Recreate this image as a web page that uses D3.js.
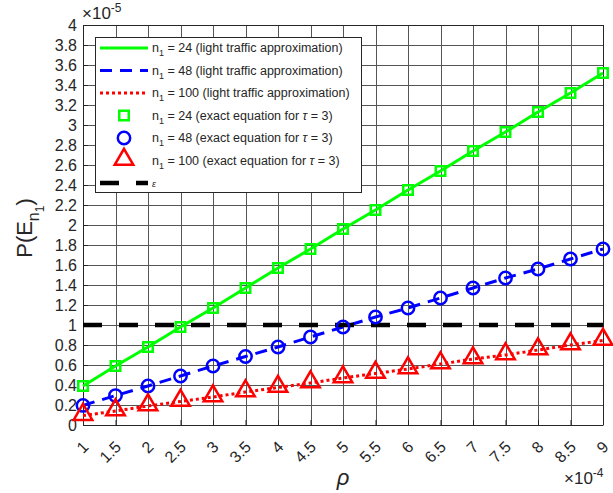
<!DOCTYPE html>
<html><head><meta charset="utf-8">
<script src="https://cdn.jsdelivr.net/npm/d3@7"></script>
<style>body{margin:0;background:#fff}svg{display:block}text{font-family:"Liberation Sans",Arial,sans-serif}</style>
</head><body><svg id="c" width="613" height="493"></svg>
<script>
const rho = [1,1.5,2,2.5,3,3.5,4,4.5,5,5.5,6,6.5,7,7.5,8,8.5,9];
const p24 = [0.39,0.59,0.78,0.98,1.17,1.37,1.57,1.76,1.96,2.15,2.35,2.54,2.74,2.93,3.13,3.32,3.52];
const p48 = [0.196,0.294,0.39,0.49,0.59,0.685,0.78,0.88,0.98,1.08,1.17,1.27,1.37,1.47,1.56,1.66,1.76];
const p100 = [0.094,0.14,0.19,0.235,0.28,0.33,0.375,0.42,0.47,0.515,0.56,0.61,0.66,0.70,0.75,0.80,0.845];
const epsX = [1,9];
const epsY = [1,1];
const xTicks = [1,1.5,2,2.5,3,3.5,4,4.5,5,5.5,6,6.5,7,7.5,8,8.5,9];
const yTicks = [0,0.2,0.4,0.6,0.8,1,1.2,1.4,1.6,1.8,2,2.2,2.4,2.6,2.8,3,3.2,3.4,3.6,3.8,4];

const svg = d3.select("#c");
const L=83,R=603,T=25,B=425;
const x = d3.scaleLinear().domain([1,9]).range([L,R]);
const y = d3.scaleLinear().domain([0,4]).range([B,T]);
const axc="#262626";

// grid
const g = svg.append("g");
g.selectAll(".gx").data(xTicks).join("line").attr("x1",d=>Math.round(x(d))+0.5).attr("x2",d=>Math.round(x(d))+0.5).attr("y1",T).attr("y2",B).attr("stroke","#555").attr("stroke-width",1);
g.selectAll(".gy").data(yTicks).join("line").attr("y1",d=>Math.round(y(d))+0.5).attr("y2",d=>Math.round(y(d))+0.5).attr("x1",L).attr("x2",R).attr("stroke","#555").attr("stroke-width",1);

// axes
const xa = svg.append("g").attr("transform",`translate(0,${B})`).call(d3.axisBottom(x).tickValues(xTicks).tickSize(-5).tickSizeOuter(0).tickFormat(d3.format("")));
xa.selectAll("text").attr("transform","translate(2,19) rotate(-45)").attr("text-anchor","end").attr("dy","0.35em").attr("dx","0").attr("y",0).attr("x",0).style("font-size","16px").attr("fill",axc);
const ya = svg.append("g").attr("transform",`translate(${L},0)`).call(d3.axisLeft(y).tickValues(yTicks).tickSize(-5).tickSizeOuter(0).tickFormat(d3.format("")));
ya.selectAll("text").attr("x",-6).style("font-size","16px").attr("fill",axc);
svg.selectAll(".domain").attr("stroke",axc);
svg.selectAll(".tick line").attr("stroke",axc);
svg.append("line").attr("x1",L).attr("x2",R).attr("y1",T+0.5).attr("y2",T+0.5).attr("stroke",axc);
svg.append("line").attr("x1",R+0.5).attr("x2",R+0.5).attr("y1",T).attr("y2",B).attr("stroke",axc);

// lines
const line = d3.line().x(d=>x(d[0])).y(d=>y(d[1]));
const zip = a=>rho.map((r,i)=>[r,a[i]]);
svg.append("path").attr("d",line(zip(p24))).attr("fill","none").attr("stroke","#00ff00").attr("stroke-width",3);
svg.append("path").attr("d",line(zip(p48))).attr("fill","none").attr("stroke","#0000ff").attr("stroke-width",3).attr("stroke-dasharray","12,8");
svg.append("path").attr("d",line(zip(p100))).attr("fill","none").attr("stroke","#ff0000").attr("stroke-width",3).attr("stroke-dasharray","3,3");
svg.append("path").attr("d",line(epsX.map((v,i)=>[v,epsY[i]]))).attr("fill","none").attr("stroke","#000").attr("stroke-width",4.5).attr("stroke-dasharray","19,17");

// markers
const sq = d3.symbol().type(d3.symbolSquare).size(90);
const ci = d3.symbol().type(d3.symbolCircle).size(120);
const tr = d3.symbol().type(d3.symbolTriangle).size(150);
svg.selectAll(".m24").data(zip(p24)).join("path").attr("d",sq).attr("transform",d=>`translate(${x(d[0])},${y(d[1])})`).attr("fill","none").attr("stroke","#00ff00").attr("stroke-width",2.5);
svg.selectAll(".m48").data(zip(p48)).join("path").attr("d",ci).attr("transform",d=>`translate(${x(d[0])},${y(d[1])})`).attr("fill","none").attr("stroke","#0000ff").attr("stroke-width",2.5);
svg.selectAll(".m100").data(zip(p100)).join("path").attr("d",tr).attr("transform",d=>`translate(${x(d[0])},${y(d[1])-1})`).attr("fill","none").attr("stroke","#ff0000").attr("stroke-width",2.5);

// exponent labels
const e5 = svg.append("text").attr("x",82).attr("y",19).style("font-size","17px").attr("fill",axc);
e5.append("tspan").text("×10");
e5.append("tspan").attr("dy",-7).style("font-size","12px").text("-5");
const e4 = svg.append("text").attr("x",564).attr("y",484).style("font-size","17px").attr("fill",axc);
e4.append("tspan").text("×10");
e4.append("tspan").attr("dy",-7).style("font-size","12px").text("-4");

// axis titles
svg.append("text").attr("x",343).attr("y",485).attr("text-anchor","middle").style("font-size","22px").style("font-style","italic").attr("fill",axc).text("ρ");
const yl = svg.append("text").attr("transform","translate(32,228) rotate(-90)").attr("text-anchor","middle").style("font-size","22px").attr("fill",axc);
yl.append("tspan").text("P(E");
yl.append("tspan").attr("dy",7).style("font-size","16px").text("n");
yl.append("tspan").attr("dy",5).style("font-size","12px").text("1");
yl.append("tspan").attr("dy",-12).text(")");

// legend
const legItems = [
 {t:"24 (light traffic approximation)",k:"line",c:"#00ff00",dash:null},
 {t:"48 (light traffic approximation)",k:"line",c:"#0000ff",dash:"12,8"},
 {t:"100 (light traffic approximation)",k:"line",c:"#ff0000",dash:"3,3"},
 {t:"24 (exact equation for ",k:"sq",c:"#00ff00"},
 {t:"48 (exact equation for ",k:"ci",c:"#0000ff"},
 {t:"100 (exact equation for ",k:"tr",c:"#ff0000"},
 {t:"ε",k:"eps",c:"#000"}
];
const lg = svg.append("g");
lg.append("rect").attr("x",95.5).attr("y",37.5).attr("width",266).attr("height",155).attr("fill","#fff").attr("stroke",axc);
legItems.forEach((it,i)=>{
  const yy = 48 + i*22.5;
  if(it.k==="line") lg.append("line").attr("x1",100).attr("x2",148).attr("y1",yy).attr("y2",yy).attr("stroke",it.c).attr("stroke-width",3).attr("stroke-dasharray",it.dash);
  if(it.k==="eps") lg.append("line").attr("x1",100).attr("x2",148).attr("y1",yy).attr("y2",yy).attr("stroke","#000").attr("stroke-width",4.5).attr("stroke-dasharray","19,17");
  if(it.k==="sq") lg.append("path").attr("d",sq).attr("transform",`translate(124,${yy})`).attr("fill","none").attr("stroke",it.c).attr("stroke-width",2.5);
  if(it.k==="ci") lg.append("path").attr("d",ci).attr("transform",`translate(124,${yy})`).attr("fill","none").attr("stroke",it.c).attr("stroke-width",2.5);
  if(it.k==="tr") lg.append("path").attr("d",tr).attr("transform",`translate(124,${yy-1})`).attr("fill","none").attr("stroke",it.c).attr("stroke-width",2.5);
  if(it.k==="eps"){
    lg.append("text").attr("x",152).attr("y",yy+4).style("font-size","9px").style("font-style","italic").attr("fill",axc).text(it.t);
  } else {
    const tx = lg.append("text").attr("x",152).attr("y",yy+4).style("font-size","12.5px").attr("fill",axc);
    tx.append("tspan").text("n");
    tx.append("tspan").attr("dy",4).style("font-size","9px").text("1");
    tx.append("tspan").attr("dy",-4).text(" = "+it.t);
    if(it.k!=="line"){
      tx.append("tspan").style("font-style","italic").text("τ");
      tx.append("tspan").text(" = 3)");
    }
  }
});
</script></body></html>
